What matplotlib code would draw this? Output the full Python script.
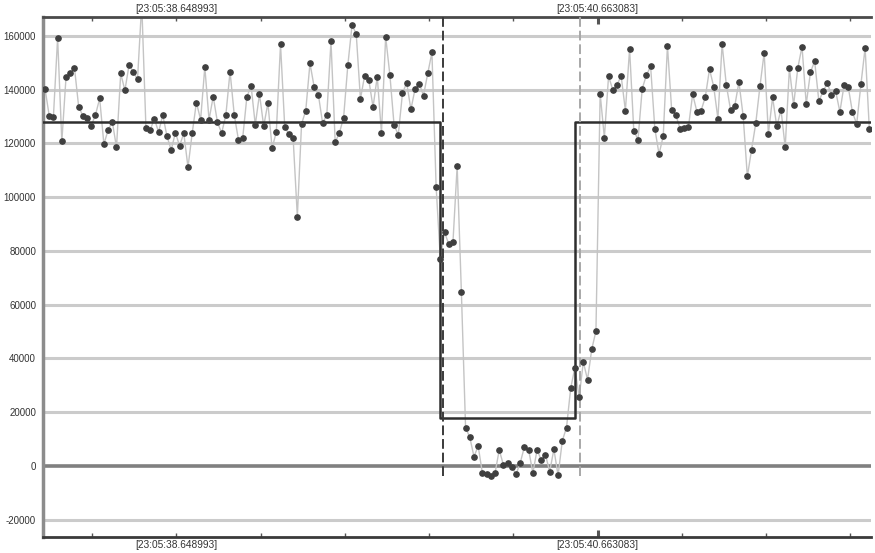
import matplotlib
matplotlib.use("Agg")
import matplotlib.pyplot as plt
import numpy as np

# sampled values, one per sample (about 20 ms apart)
values = [
    140400, 130300, 129900, 159300, 120700, 144600, 146000, 148200, 133700, 130200,
    129400, 126600, 130600, 136700, 119700, 124900, 128100, 118500, 146000, 139700,
    149300, 146500, 143900, 172000, 125700, 124900, 129200, 124200, 130500, 122700,
    117500, 124000, 119100, 123800, 111100, 123800, 135200, 128800, 148400, 128800,
    137400, 127900, 123800, 130500, 146700, 130600, 121300, 121900, 137300, 141400,
    126900, 138300, 126400, 135000, 118200, 124300, 156800, 126200, 123400, 121900,
    92800, 127200, 132200, 149800, 141000, 138100, 127600, 130500, 157900, 120400,
    123900, 129600, 149000, 163900, 160800, 136500, 145200, 143500, 133500, 144800,
    123800, 159600, 145500, 126800, 123200, 138700, 142500, 132600, 140300, 142200,
    137800, 146000, 153800, 103800, 77000, 87000, 82500, 83200, 111600, 64900,
    14300, 10700, 3500, 7400, -2700, -3000, -3600, -2700, 6000, 400,
    1000, -300, -3100, 1200, 7200, 6000, -2600, 6000, 2200, 4200,
    -2100, 6200, -3500, 9400, 14300, 29000, 36600, 25600, 38700, 32100,
    43400, 50200, 138500, 122100, 145000, 139900, 141800, 145000, 132200, 155100,
    124700, 121400, 140300, 145400, 148600, 125500, 116000, 122700, 156300, 132500,
    130500, 125500, 125700, 126200, 138300, 131800, 132200, 137200, 147600, 141100,
    129200, 156900, 141700, 132500, 133900, 142800, 130200, 107700, 117700, 127500,
    141300, 153700, 123500, 137100, 126300, 132500, 118500, 147900, 134200, 148100,
    156000, 134600, 146400, 150600, 135700, 139300, 142400, 138100, 139400, 131700,
    141700, 140900, 131500, 127200, 141900, 155500, 125500,
]

# step reference: high level, drop, low level, rise
step_x = [-1, 93.9, 93.9, 126.1, 126.1, 198]
step_y = [128000, 128000, 18000, 18000, 128000, 128000]

marker_x = [94.65, 127.1]
tick_pos = [11.2 + 20.03 * k for k in range(10)]
tick_labels = ["", "[23:05:38.648993]", "", "", "", "", "[23:05:40.663083]", "", "", ""]
y_ticks = [-20000, 0, 20000, 40000, 60000, 80000, 100000, 120000, 140000, 160000]

plt.rcParams["font.family"] = ["Liberation Sans", "DejaVu Sans"]

fig = plt.figure(figsize=(8.75, 5.53), dpi=100)
ax = fig.add_axes([43 / 875, 16 / 553, 828 / 875, 520 / 553])

xs = np.arange(len(values))

for yv in y_ticks:
    if yv == 0:
        ax.axhline(yv, color="#808080", lw=2.6, zorder=1)
    else:
        ax.axhline(yv, color="#cbcbcb", lw=2.2, zorder=1)

ax.plot(xs, values, color="#c4c4c4", lw=1.0, zorder=2)
ax.plot(xs, values, "o", color="#3f3f3f", ms=3.8, mec="#3f3f3f", zorder=4)

ax.plot(step_x, step_y, color="#2e2e2e", lw=1.8, zorder=3)

ax.axvline(marker_x[0], ymin=0.118, ymax=1, color="#3a3a3a", lw=1.4,
           ls=(0, (5, 2)), zorder=3)
ax.axvline(marker_x[1], ymin=0.118, ymax=1, color="#a8a8a8", lw=1.4,
           ls=(0, (5, 2)), zorder=3)

ax.set_xlim(-0.476, 196.4)
ax.set_ylim(-26400, 167000)

ax.set_yticks(y_ticks)
ax.set_yticklabels([str(v) for v in y_ticks])
ax.set_xticks(tick_pos)
ax.set_xticklabels(tick_labels)

ax.tick_params(axis="y", length=0, pad=5, labelsize=7, labelcolor="#333333")
ax.tick_params(axis="x", direction="in", length=3, width=1, color="#555555",
               top=True, labeltop=True, labelsize=7.3, labelcolor="#333333", pad=2)

# the current-position tick is drawn heavier
cur = ax.xaxis.get_major_ticks()[6]
for ln in (cur.tick1line, cur.tick2line):
    ln.set_markeredgewidth(2.2)
    ln.set_markersize(5)
    ln.set_color("#111111")

ax.spines["left"].set_color("#8c8c8c")
ax.spines["left"].set_linewidth(2.5)
ax.spines["bottom"].set_color("#3a3a3a")
ax.spines["bottom"].set_linewidth(2.0)
ax.spines["top"].set_color("#4a4a4a")
ax.spines["top"].set_linewidth(2.0)
ax.spines["right"].set_visible(False)

fig.savefig("out.png", dpi=100, facecolor="white")
